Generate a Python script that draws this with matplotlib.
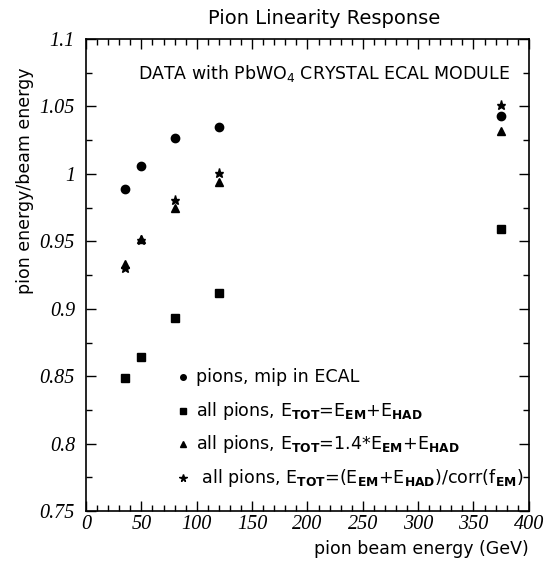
import matplotlib
matplotlib.use('Agg')
import matplotlib.pyplot as plt
from matplotlib.ticker import MultipleLocator, FuncFormatter

beam_energy = [35, 50, 80, 120, 375]
mip_in_ecal = [0.989, 1.006, 1.027, 1.035, 1.043]
em_plus_had = [0.849, 0.864, 0.893, 0.912, 0.959]
weighted_em = [0.933, 0.952, 0.975, 0.994, 1.032]
corr_fem = [0.930, 0.951, 0.981, 1.001, 1.051]

legend_labels = [
    'pions, mip in ECAL',
    r'all pions, E$_{\mathbf{TOT}}$=E$_{\mathbf{EM}}$+E$_{\mathbf{HAD}}$',
    r'all pions, E$_{\mathbf{TOT}}$=1.4*E$_{\mathbf{EM}}$+E$_{\mathbf{HAD}}$',
    r' all pions, E$_{\mathbf{TOT}}$=(E$_{\mathbf{EM}}$+E$_{\mathbf{HAD}}$)/corr(f$_{\mathbf{EM}}$)',
]

plt.rcParams['mathtext.fontset'] = 'dejavusans'

fig = plt.figure(figsize=(5.59, 5.66), dpi=100)
ax = fig.add_axes([0.154, 0.097, 0.792, 0.834])

ax.plot(beam_energy, mip_in_ecal, 'o', color='black', markersize=6)
ax.plot(beam_energy, em_plus_had, 's', color='black', markersize=6)
ax.plot(beam_energy, weighted_em, '^', color='black', markersize=6)
ax.plot(beam_energy, corr_fem, '*', color='black', markersize=6.5)

ax.set_xlim(0, 400)
ax.set_ylim(0.75, 1.1)
ax.xaxis.set_major_locator(MultipleLocator(50))
ax.xaxis.set_minor_locator(MultipleLocator(10))
ax.yaxis.set_major_locator(MultipleLocator(0.05))
ax.yaxis.set_minor_locator(MultipleLocator(0.025))
ax.tick_params(which='both', direction='in', top=True, right=True, width=1)
ax.tick_params(which='major', length=7)
ax.tick_params(which='minor', length=4)
for sp in ax.spines.values():
    sp.set_linewidth(1.2)

fmt = FuncFormatter(lambda v, p: ('%g' % round(v, 3)))
ax.xaxis.set_major_formatter(fmt)
ax.yaxis.set_major_formatter(fmt)
for lab in ax.get_xticklabels() + ax.get_yticklabels():
    lab.set_family('Liberation Serif')
    lab.set_style('italic')
    lab.set_fontsize(14.5)
ax.tick_params(axis='x', pad=3)
ax.tick_params(axis='y', pad=8)

ax.set_ylabel('pion energy/beam energy', fontsize=12.5, y=0.70)
ax.set_xlabel('pion beam energy (GeV)', fontsize=12.5, loc='right', labelpad=4)
fig.text(0.58, 0.968, 'Pion Linearity Response', fontsize=14, ha='center', va='center')

ax.text(0.958, 0.928, r'DATA with PbWO$_4$ CRYSTAL ECAL MODULE', transform=ax.transAxes,
        fontsize=12.5, ha='right', va='center')

markers = ['o', 's', '^', '*']
sizes = [4, 5, 4.5, 5.5]
rows = [0.285, 0.213, 0.142, 0.070]
for m, s, yy, lab in zip(markers, sizes, rows, legend_labels):
    ax.plot([0.219], [yy], m, color='black', markersize=s, transform=ax.transAxes, clip_on=False)
    ax.text(0.248, yy, lab, transform=ax.transAxes, fontsize=12.6, va='center', ha='left')

fig.savefig('out.png', dpi=100)
